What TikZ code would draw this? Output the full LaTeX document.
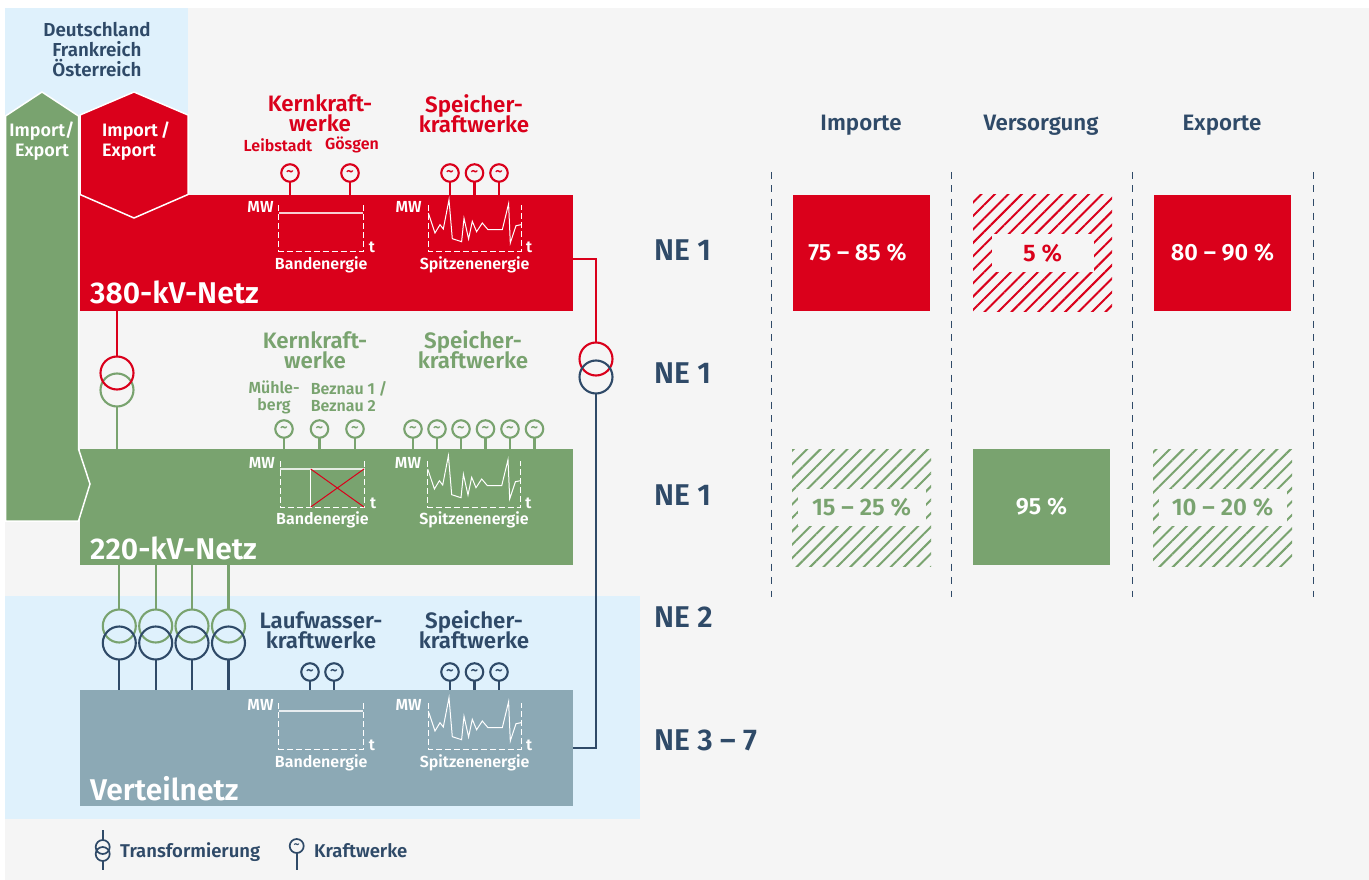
\documentclass[tikz,border=0pt]{standalone}
\usepackage{fontspec}
\setmainfont{Fira Sans}[BoldFont={Fira Sans SemiBold}]
\usepackage{xcolor}
\usetikzlibrary{positioning,arrows.meta,patterns.meta}

\definecolor{cRed}{HTML}{DA001B}
\definecolor{cGreen}{HTML}{79A36F}
\definecolor{cDark}{HTML}{2F4A68}
\definecolor{cGrey}{HTML}{8CA9B5}
\definecolor{cSky}{HTML}{DFF1FC}
\definecolor{cBack}{HTML}{F5F5F5}

\newcommand{\wave}{\textbf{\textasciitilde}}

\tikzset{
    barbox/.style={anchor=north west, minimum width=493pt, minimum height=116pt, inner sep=0, outer sep=0},
    trafo/.style={circle, draw, line width=2.1pt, minimum size=33pt, inner sep=0, outer sep=0},
    gen/.style={circle, draw, line width=2.1pt, minimum size=17.5pt, inner sep=0, outer sep=0, font=\fontsize{15}{15}\selectfont},
    minigen/.style={gen, line width=1.7pt, minimum size=14pt, font=\fontsize{12}{12}\selectfont},
    minitrafo/.style={circle, draw=cDark, line width=1.7pt, minimum size=14pt, inner sep=0, outer sep=0},
    stem/.style={line width=2.1pt},
    heading/.style={align=center, inner sep=0, font=\fontsize{22.3}{20}\selectfont\bfseries},
    plant/.style={align=center, inner sep=0, font=\fontsize{16}{17}\selectfont\bfseries},
    chartlabel/.style={inner sep=0, text=white, font=\fontsize{16}{14}\selectfont\bfseries},
    netname/.style={anchor=west, inner sep=0, text=white, font=\fontsize{30}{30}\selectfont\bfseries},
    nelevel/.style={anchor=west, inner sep=0, text=cDark, font=\fontsize{30}{30}\selectfont\bfseries},
    columnhead/.style={inner sep=0, text=cDark, font=\fontsize{22.3}{22}\selectfont\bfseries},
    legendtext/.style={anchor=base west, inner sep=0, text=cDark, font=\fontsize{18.5}{18}\selectfont\bfseries},
    sharebox/.style={minimum width=137pt, minimum height=116pt, inner sep=0, outer sep=0, text=white, font=\fontsize{23.5}{23}\selectfont\bfseries},
    hatchbox/.style={minimum width=139pt, minimum height=117pt, inner sep=0, outer sep=0,
        pattern={Lines[angle=45,distance=9.5pt,line width=2pt]}},
    sharelabel/.style={fill=cBack, inner sep=0, font=\fontsize{24}{23}\selectfont\bfseries},
    grid line/.style={cDark, line width=1pt, dash pattern=on 7pt off 6.5pt},
    pics/chartband/.style={code={
        \draw[white, line width=1pt, dash pattern=on 6pt off 3pt] (0,-46) -- (0,0) -- (84.5,0) -- (84.5,-46);
        \draw[white, opacity=.8, line width=1.2pt] (0,-38) -- (84.5,-38);
        \node[chartlabel, anchor=east] (-mw) at (-5,-44) {MW};
        \node[chartlabel, anchor=west] (-t) at (90,-4) {t};
        \node[chartlabel] (-name) at (42.5,#1) {Bandenergie};
    }},
    pics/chartpeak/.style={code={
        \draw[white, line width=1pt, dash pattern=on 6pt off 3pt] (0,-46) -- (0,0) -- (92.7,0) -- (92.7,-46);
        \draw[white, line width=1pt] (0,-38) -- (6.7,-18) -- (11.7,-26.3) -- (15,-22) -- (20.7,-51.3)
            -- (24,-12.3) -- (33.3,-9.3) -- (35.7,-32.7) -- (40.3,-12) -- (44,-29.7) -- (48.3,-19.3)
            -- (54,-28) -- (59.7,-21.3) -- (74,-21.3) -- (80.3,-47.3) -- (82,-8) -- (87.7,-25.3) -- (92.7,-26.3);
        \node[chartlabel, anchor=east] (-mw) at (-6.5,-44) {MW};
        \node[chartlabel, anchor=west] (-t) at (97.5,-4) {t};
        \node[chartlabel] (-name) at (46.3,#1) {Spitzenenergie};
    }},
}

\begin{document}
\begin{tikzpicture}[x=1pt, y=-1pt]

    \useasboundingbox (0,0) rectangle (1369,880);
    \fill[cBack] (5,8) rectangle (1369,880);
    \fill[cSky] (5,8) rectangle (188,116);
    \fill[cSky] (5,596) rectangle (640,819);

    % grid levels
    \node[barbox, fill=cRed] (net380) at (80,195) {};
    \node[barbox, fill=cGreen] (net220) at (80,449) {};
    \node[barbox, fill=cGrey] (netlow) at (80,690) {};

    \path[draw=white, line width=1.5pt, fill=cGreen]
        (5.5,116) -- (42,92) -- (78.5,116) -- (78.5,449) -- (90,484) -- (78.5,521) -- (5.5,521) -- cycle;
    \path[draw=white, line width=1.5pt, fill=cRed]
        (80,115) -- (134,92) -- (188,115) -- (188,194.5) -- (134,218) -- (80,194.5) -- cycle;

    \node[netname] (name380) at (90,292) {380-kV-Netz};
    \node[netname] (name220) at (90,548) {220-kV-Netz};
    \node[netname] (namelow) at (90,789) {Verteilnetz};

    \node[align=center, inner sep=0, text=cDark, font=\fontsize{18.8}{20}\selectfont\bfseries] (abroad) at (97,50) {Deutschland\\Frankreich\\Österreich};
    \node[align=center, inner sep=0, text=white, font=\fontsize{18}{20}\selectfont\bfseries] (impgreen) at (42,141) {Import/\\Export};
    \node[align=left, inner sep=0, text=white, anchor=west, font=\fontsize{18}{20}\selectfont\bfseries] (impred) at (102,141) {Import\,/\\Export};

    % power plants
    \node[heading, text=cRed] (kern380) at (320,113.5) {Kernkraft-\\werke};
    \node[heading, text=cRed] (spei380) at (474,113.5) {Speicher-\\[-3pt]kraftwerke};
    \node[plant, text=cRed] (leib) at (278,145) {Leibstadt};
    \node[plant, text=cRed] (goes) at (352,145) {Gösgen};

    \node[heading, text=cGreen] (kern220) at (315,350) {Kernkraft-\\werke};
    \node[heading, text=cGreen] (spei220) at (473,350) {Speicher-\\[-3pt]kraftwerke};
    \node[plant, text=cGreen] (muehle) at (274,397) {Mühle-\\berg};
    \node[plant, text=cGreen, align=left] (bez) at (349,397) {Beznau 1 /\\Beznau 2};

    \node[heading, text=cDark] (lauf) at (321,630) {Laufwasser-\\kraftwerke};
    \node[heading, text=cDark] (speilow) at (474,630) {Speicher-\\[-3pt]kraftwerke};

    \foreach \n/\x in {a/290,b/350,c/450,d/474.5,e/499} {
        \node[gen, draw=cRed, text=cRed] (gr\n) at (\x,173) {\wave};
        \draw[stem, cRed] (gr\n) -- (gr\n |- net380.north);
    }
    \foreach \n/\x in {a/284,b/319.5,c/355,d/413,e/437,f/461,g/485.5,h/510,i/534.5} {
        \node[gen, draw=cGreen, text=cGreen] (gg\n) at (\x,429) {\wave};
        \draw[stem, cGreen] (gg\n) -- (gg\n |- net220.north);
    }
    \foreach \n/\x in {a/310,b/334,c/450,d/474.5,e/499} {
        \node[gen, draw=cDark, text=cDark] (gd\n) at (\x,672) {\wave};
        \draw[stem, cDark] (gd\n) -- (gd\n |- netlow.north);
    }

    % charts
    \pic (band380) at (278.7,251) {chartband=14};
    \pic (peak380) at (428.3,251) {chartpeak=14};
    \pic (band220) at (280,507) {chartband=12.5};
    \pic (peak220) at (427.7,507) {chartpeak=12.5};
    \pic (bandlow) at (278.7,749) {chartband=14};
    \pic (peaklow) at (428.3,749) {chartpeak=14};

    \draw[white, line width=1pt] (310.7,469) -- (310.7,507);
    \draw[cRed, line width=1pt] (310.7,469) -- (364,507);
    \draw[cRed, line width=1pt] (310.7,507) -- (364,469);

    % transformers
    \node[trafo, draw=cGreen] (t1b) at (117,390) {};
    \node[trafo, draw=cRed] (t1a) at (117,373) {};
    \draw[stem, cRed] (net380.south -| t1a) -- (t1a);
    \draw[stem, cGreen] (t1b) -- (t1b |- net220.north);

    \foreach \n/\x in {a/119.3,b/155.7,c/192,d/228.5} {
        \node[trafo, draw=cGreen] (ta\n) at (\x,626) {};
        \draw[stem, cGreen] (net220.south -| ta\n) -- (ta\n);
    }
    \foreach \n/\x in {a/119.3,b/155.7,c/192,d/228.5} {
        \node[trafo, draw=cDark] (tb\n) at (\x,643) {};
        \draw[stem, cDark] (tb\n) -- (tb\n |- netlow.north);
    }

    \node[trafo, draw=cRed] (t2a) at (596,359) {};
    \node[trafo, draw=cDark] (t2b) at (596,377) {};
    \coordinate (outred) at (573,259);
    \coordinate (outdark) at (573,748);
    \draw[stem, cRed] (outred) -| (t2a);
    \draw[stem, cDark] (t2b) |- (outdark);

    % network levels
    \node[nelevel] (ne1) at (654,250) {NE 1};
    \node[nelevel] (ne2) at (654,373) {NE 1};
    \node[nelevel] (ne3) at (654,495) {NE 1};
    \node[nelevel] (ne4) at (654,617) {NE 2};
    \node[nelevel] (ne5) at (654,740) {NE 3 – 7};

    % shares
    \node[columnhead] (imp) at (861,125.5) {Importe};
    \node[columnhead] (ver) at (1041,125.5) {Versorgung};
    \node[columnhead] (exp) at (1222,125.5) {Exporte};

    \foreach \n/\x in {a/771,b/951.5,c/1132.5,d/1313} {
        \coordinate (gridtop\n) at (\x,172);
        \coordinate (gridend\n) at (\x,597);
        \draw[grid line] (gridtop\n) -- (gridend\n);
    }

    \node[sharebox, fill=cRed] (impred380) at (861.5,253) {\hspace*{-8pt}75 – 85 \%};
    \node[hatchbox, pattern color=cRed] (verred) at (1042.5,253) {};
    \node[sharelabel, text=cRed, minimum width=102pt, minimum height=38pt] (verlab) at (1042.5,253) {5 \%};
    \node[sharebox, fill=cRed] (expred380) at (1222.5,253) {80 – 90 \%};

    \node[hatchbox, pattern color=cGreen] (impgr) at (861.5,507.5) {};
    \node[sharelabel, text=cGreen, minimum width=128pt, minimum height=37pt] (impgrlab) at (861.5,507.5) {15 – 25 \%};
    \node[sharebox, fill=cGreen] (vergr) at (1041.5,507) {95 \%};
    \node[hatchbox, pattern color=cGreen] (expgr) at (1222.5,507.5) {};
    \node[sharelabel, text=cGreen, minimum width=128pt, minimum height=37pt] (expgrlab) at (1222.5,507.5) {10 – 20 \%};

    % legend
    \node[minitrafo] (legb) at (102.7,854) {};
    \node[minitrafo] (lega) at (102.7,847) {};
    \coordinate (legtop) at (102.7,830);
    \coordinate (legbot) at (102.7,870);
    \draw[cDark, line width=1.7pt] (legtop) -- (lega);
    \draw[cDark, line width=1.7pt] (legb) -- (legbot);
    \node[legendtext] (legtrafo) at (120,857) {Transformierung};

    \node[minigen, draw=cDark, text=cDark] (leggen) at (296.7,846) {\wave};
    \coordinate (leggenbot) at (296.7,870);
    \draw[cDark, line width=1.7pt] (leggen) -- (leggenbot);
    \node[legendtext] (legplant) at (314,857) {Kraftwerke};

\end{tikzpicture}
\end{document}
